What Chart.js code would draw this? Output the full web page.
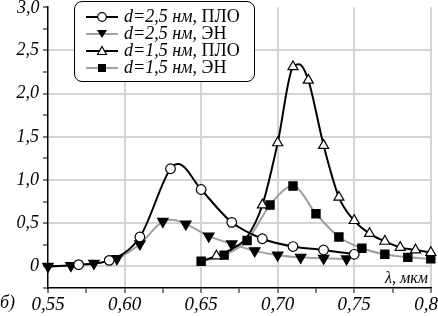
<!DOCTYPE html>
<html>
<head>
<meta charset="utf-8">
<script src="https://cdn.jsdelivr.net/npm/chart.js@4/dist/chart.umd.min.js"></script>
<style>
  html, body { margin: 0; padding: 0; background: #fff; }
  #wrap { position: relative; width: 438px; height: 316px; overflow: hidden; font-family: "Liberation Serif", serif; }
  #wrap canvas { position: absolute; left: 0; top: 0; }
  .lbl { position: absolute; font-style: italic; font-size: 18px; line-height: 18px; color: #000; white-space: nowrap; }
  #legend { position: absolute; left: 74px; top: 1px; width: 181px; height: 81px; box-sizing: border-box;
            border: 1.5px solid #000; border-radius: 8px; background: #fff; padding-top: 6px; }
  #legend .row { height: 17px; display: flex; align-items: center; font-size: 18px; line-height: 17px; }
  #legend svg { margin-left: 11px; margin-right: 6px; flex: none; }
  #legend i { font-style: italic; }
</style>
</head>
<body>
<div id="wrap">
  <canvas id="chart" width="438" height="316"></canvas>
  <div class="lbl" style="left:17px; top:-2px;">3,0</div>
  <div class="lbl" style="left:0px; top:293px;">б)</div>
  <div class="lbl" style="left:385px; top:269px; font-size:16px;">λ, мкм</div>
  <div id="legend"></div>
</div>
<script>
// d=2,5 нм, ПЛО
const s1X = [0.55, 0.57, 0.59, 0.61, 0.63, 0.635, 0.65, 0.67, 0.69, 0.71, 0.73, 0.75];
const s1Y = [0.0, 0.02, 0.07, 0.34, 1.13, 1.185, 0.89, 0.51, 0.32, 0.23, 0.19, 0.14];
const s1Mark = [0, 1, 1, 1, 1, 0, 1, 1, 1, 1, 1, 1];

// d=2,5 нм, ЭН
const s2X = [0.55, 0.565, 0.58, 0.595, 0.61, 0.625, 0.631, 0.64, 0.655, 0.67, 0.685, 0.70, 0.715, 0.73, 0.745];
const s2Y = [0.0, 0.01, 0.035, 0.09, 0.26, 0.52, 0.54, 0.49, 0.35, 0.26, 0.18, 0.13, 0.105, 0.094, 0.087];
const s2Mark = [1, 1, 1, 1, 1, 1, 0, 1, 1, 1, 1, 1, 1, 1, 1];

// d=1,5 нм, ПЛО
const s3X = [0.65, 0.66, 0.67, 0.68, 0.69, 0.70, 0.71, 0.714, 0.72, 0.73, 0.74, 0.75, 0.76, 0.77, 0.78, 0.79, 0.80];
const s3Y = [0.06, 0.12, 0.2, 0.34, 0.71, 1.43, 2.31, 2.34, 2.155, 1.40, 0.80, 0.53, 0.38, 0.29, 0.22, 0.19, 0.16];
const s3Mark = [0, 1, 0, 0, 1, 1, 1, 0, 1, 1, 1, 1, 1, 1, 1, 1, 1];

// d=1,5 нм, ЭН
const s4X = [0.65, 0.665, 0.68, 0.695, 0.71, 0.725, 0.74, 0.755, 0.77, 0.785, 0.80];
const s4Y = [0.06, 0.13, 0.30, 0.71, 0.93, 0.61, 0.34, 0.21, 0.14, 0.105, 0.087];
const s4Mark = [1, 1, 1, 1, 1, 1, 1, 1, 1, 1, 1];

const legendLabels = [
  ['d', '=2,5 ', 'нм', ', ', 'ПЛО'],
  ['d', '=2,5 ', 'нм', ', ', 'ЭН'],
  ['d', '=1,5 ', 'нм', ', ', 'ПЛО'],
  ['d', '=1,5 ', 'нм', ', ', 'ЭН']
];

const xTicksMajor = [0.55, 0.60, 0.65, 0.70, 0.75, 0.80];
const yTicksMajor = [0, 0.5, 1.0, 1.5, 2.0, 2.5];

const BLACK = '#000000';
const GRAY = '#a0a0a0';

const styles = [
  { line: BLACK, style: 'circle', fill: '#fff', radius: 4.8, rot: 0 },
  { line: GRAY, style: 'triangle', fill: '#000', radius: 6, rot: 180 },
  { line: BLACK, style: 'triangle', fill: '#fff', radius: 5.8, rot: 0 },
  { line: GRAY, style: 'rect', fill: '#000', radius: 5.8, rot: 0 }
];

function makeSet(xs, ys, marks, st) {
  return {
    data: xs.map((x, i) => ({ x: x, y: ys[i] })),
    borderColor: st.line,
    borderWidth: 2,
    cubicInterpolationMode: 'monotone',
    pointStyle: st.style,
    pointRotation: st.rot,
    pointRadius: ctx => marks[ctx.dataIndex] ? st.radius : 0,
    pointBackgroundColor: st.fill,
    pointBorderColor: '#000',
    pointBorderWidth: 1.2,
    clip: false
  };
}

// datasets drawn in reverse so the black curves stay on top
const datasets = [
  makeSet(s3X, s3Y, s3Mark, styles[2]),
  makeSet(s1X, s1Y, s1Mark, styles[0]),
  makeSet(s4X, s4Y, s4Mark, styles[3]),
  makeSet(s2X, s2Y, s2Mark, styles[1])
];

const near = (v, list) => list.some(t => Math.abs(t - v) < 1e-6);
const comma = (v, d) => v.toFixed(d).replace('.', ',');

new Chart(document.getElementById('chart'), {
  type: 'line',
  data: { datasets: datasets },
  options: {
    responsive: false,
    animation: false,
    layout: { padding: { left: 0, right: 4, top: 0, bottom: 0 } },
    plugins: { legend: { display: false }, tooltip: { enabled: false } },
    scales: {
      x: {
        type: 'linear',
        min: 0.55,
        max: 0.80,
        border: { display: true, color: '#000', width: 1.5 },
        grid: {
          color: c => c.tick && near(c.tick.value, xTicksMajor) && c.tick.value > 0.56 ? '#d4d4d4' : 'rgba(0,0,0,0)',
          lineWidth: 2,
          tickColor: '#000',
          tickWidth: 1,
          tickLength: 5
        },
        ticks: {
          stepSize: 0.025,
          autoSkip: false,
          maxRotation: 0,
          padding: 1,
          color: '#000',
          font: { family: 'Liberation Serif', size: 19, style: 'italic' },
          callback: v => near(v, xTicksMajor) ? comma(v, 2) : ''
        },
        afterFit: a => { a.height = 28; a.paddingLeft = 0; a.paddingRight = 0; }
      },
      y: {
        min: -0.25,
        max: 3.0,
        border: { display: true, color: '#000', width: 1.5 },
        grid: {
          color: c => c.tick && near(c.tick.value, yTicksMajor) ? '#d4d4d4' : 'rgba(0,0,0,0)',
          lineWidth: 2,
          tickColor: '#000',
          tickWidth: 1,
          tickLength: 5
        },
        ticks: {
          stepSize: 0.25,
          autoSkip: false,
          padding: 4,
          color: '#000',
          font: { family: 'Liberation Serif', size: 18, style: 'italic' },
          callback: v => !near(v, yTicksMajor) ? '' : (v === 0 ? '0' : comma(v, 1))
        },
        afterFit: a => { a.width = 48; a.paddingTop = 0; a.paddingBottom = 0; }
      }
    }
  }
});

// legend box with line + marker samples
const legend = document.getElementById('legend');
legendLabels.forEach((parts, i) => {
  const st = styles[i];
  let mark = '';
  if (st.style === 'circle') mark = '<circle cx="16" cy="6" r="4.3" fill="#fff" stroke="#000" stroke-width="1.2"/>';
  else if (st.style === 'triangle' && st.rot === 180) mark = '<polygon points="11,2 21,2 16,10" fill="#000"/>';
  else if (st.style === 'triangle') mark = '<polygon points="16,1.5 20.5,9.5 11.5,9.5" fill="#fff" stroke="#000" stroke-width="1.2"/>';
  else mark = '<rect x="12" y="2" width="8" height="8" fill="#000"/>';
  const row = document.createElement('div');
  row.className = 'row';
  row.innerHTML = '<svg width="32" height="12"><line x1="0" y1="6" x2="32" y2="6" stroke="' + st.line + '" stroke-width="2"/>' + mark + '</svg>' +
    '<span><i>' + parts[0] + parts[1] + parts[2] + parts[3] + '</i>' + parts[4] + '</span>';
  legend.appendChild(row);
});
</script>
</body>
</html>
